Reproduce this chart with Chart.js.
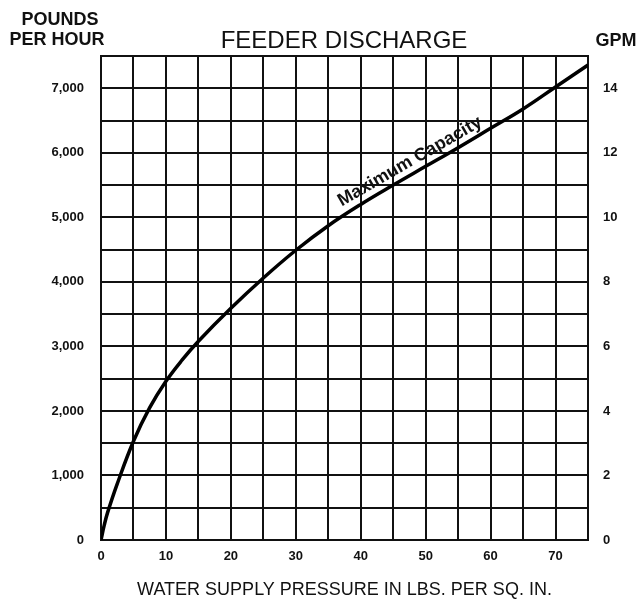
<!DOCTYPE html>
<html>
<head>
<meta charset="utf-8">
<script src="https://cdn.jsdelivr.net/npm/chart.js@4/dist/chart.umd.min.js"></script>
<style>
    html, body { margin: 0; padding: 0; background: #fff; }
    #wrap { width: 641px; height: 603px; position: relative; }
</style>
</head>
<body>
<div id="wrap"><canvas id="feederChart"></canvas></div>
<script>
// pressure (psi) vs. max capacity (lb/hr)
const pressure = [0, 0.5, 1, 2.5, 5, 7.5, 10, 12.5, 15, 20, 25, 30, 35, 40, 45, 50, 55, 60, 65, 70, 75];
const capacity = [0, 230, 420, 870, 1530, 2050, 2460, 2790, 3080, 3590, 4060, 4490, 4870, 5200, 5500, 5790, 6080, 6380, 6680, 7020, 7360];
const xTicks = [0, 10, 20, 30, 40, 50, 60, 70];
const yTicks = [0, 1000, 2000, 3000, 4000, 5000, 6000, 7000];
const gpmTicks = [0, 2, 4, 6, 8, 10, 12, 14];
const curveLabel = 'Maximum Capacity';
const labelAt = 48.5; // psi where the curve label sits

const FONT = "'Liberation Sans', Arial, Helvetica, sans-serif";

// titles + curve label drawn straight on the canvas
const decorations = {
    id: 'decorations',
    afterDatasetsDraw(chart) {
        const ctx = chart.ctx;
        const xs = chart.scales.x, ys = chart.scales.y;
        ctx.save();
        ctx.fillStyle = '#111';

        ctx.font = '24px ' + FONT;
        ctx.textAlign = 'center';
        ctx.textBaseline = 'alphabetic';
        ctx.fillText('FEEDER DISCHARGE', 344, 48);

        ctx.font = 'bold 18px ' + FONT;
        ctx.fillText('POUNDS', 60, 25);
        ctx.fillText('PER HOUR', 57, 45);
        ctx.fillText('GPM', 616, 46);

        // label follows the curve
        let i = 1;
        while (i < pressure.length - 1 && pressure[i] < labelAt) i++;
        const x0 = xs.getPixelForValue(pressure[i - 1]), y0 = ys.getPixelForValue(capacity[i - 1]);
        const x1 = xs.getPixelForValue(pressure[i]), y1 = ys.getPixelForValue(capacity[i]);
        const t = (labelAt - pressure[i - 1]) / (pressure[i] - pressure[i - 1]);
        const px = x0 + (x1 - x0) * t, py = y0 + (y1 - y0) * t;
        const angle = Math.atan2(y1 - y0, x1 - x0);
        ctx.translate(px, py);
        ctx.rotate(angle);
        ctx.font = 'bold 18px ' + FONT;
        ctx.textAlign = 'center';
        ctx.textBaseline = 'bottom';
        ctx.fillText(curveLabel, 0, -3);
        ctx.restore();
    }
};

const ctx = document.getElementById('feederChart').getContext('2d');

new Chart(ctx, {
    type: 'line',
    data: {
        datasets: [{
            label: curveLabel,
            data: pressure.map((p, i) => ({ x: p, y: capacity[i] })),
            borderColor: '#000',
            borderWidth: 3.5,
            pointRadius: 0,
            tension: 0.4,
            fill: false
        }]
    },
    options: {
        responsive: true,
        maintainAspectRatio: false,
        animation: false,
        layout: { padding: { top: 56, left: 0, right: 0, bottom: 0 } },
        plugins: {
            legend: { display: false },
            title: { display: false },
            tooltip: { enabled: false }
        },
        scales: {
            x: {
                type: 'linear',
                min: 0,
                max: 75,
                ticks: {
                    stepSize: 5,
                    padding: 9,
                    color: '#111',
                    font: { family: FONT, size: 13, weight: 'bold' },
                    maxRotation: 0,
                    callback: function(value) {
                        return xTicks.includes(value) ? value : '';
                    }
                },
                grid: { color: '#111', lineWidth: 2, drawTicks: false },
                border: { color: '#111', width: 2 },
                title: {
                    display: true,
                    text: 'WATER SUPPLY PRESSURE IN LBS. PER SQ. IN.',
                    color: '#111',
                    font: { family: FONT, size: 18 },
                    padding: { top: 10, bottom: 2 }
                },
                afterFit: function(scale) { scale.height = 63; }
            },
            y: {
                type: 'linear',
                position: 'left',
                min: 0,
                max: 7500,
                ticks: {
                    stepSize: 500,
                    padding: 17,
                    color: '#111',
                    font: { family: FONT, size: 13, weight: 'bold' },
                    callback: function(value) {
                        return yTicks.includes(value) ? value.toLocaleString('en-US') : '';
                    }
                },
                grid: { color: '#111', lineWidth: 2, drawTicks: false },
                border: { color: '#111', width: 2 },
                afterFit: function(scale) { scale.width = 101; }
            },
            gpm: {
                type: 'linear',
                position: 'right',
                min: 0,
                max: 15,
                ticks: {
                    stepSize: 1,
                    padding: 15,
                    color: '#111',
                    font: { family: FONT, size: 13, weight: 'bold' },
                    callback: function(value) {
                        return gpmTicks.includes(value) ? value : '';
                    }
                },
                grid: { display: false, drawTicks: false },
                border: { color: '#111', width: 2 },
                afterFit: function(scale) { scale.width = 53; }
            }
        }
    },
    plugins: [decorations]
});
</script>
</body>
</html>
